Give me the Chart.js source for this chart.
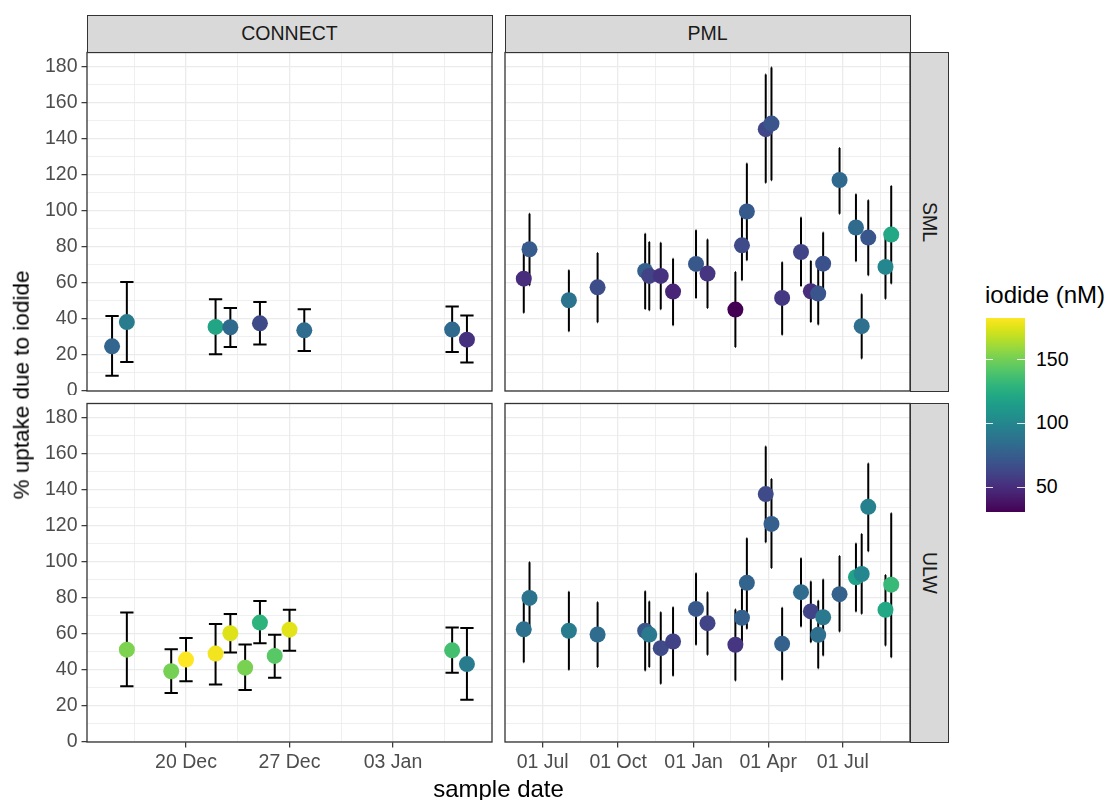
<!DOCTYPE html>
<html>
<head>
<meta charset="utf-8">
<title>% uptake due to iodide</title>
<script src="https://cdn.jsdelivr.net/npm/chart.js@4.4.1/dist/chart.umd.min.js"></script>
<style>
  html, body { margin: 0; padding: 0; background: #ffffff; }
  #figure { position: relative; width: 1111px; height: 800px; overflow: hidden; background: #ffffff;
            font-family: 'Liberation Sans', Arial, Helvetica, sans-serif; }
  #figure canvas { position: absolute; }
  .strip { position: absolute; box-sizing: border-box; background: #D9D9D9; border: 1px solid #333333;
           color: #1A1A1A; font-size: 19.5px; display: flex; align-items: center; justify-content: center;
           white-space: nowrap; }
  .strip.right { writing-mode: vertical-rl; }
  .txt { position: absolute; white-space: nowrap; line-height: 1; color: #000000; }
</style>
</head>
<body>
<div id="figure"></div>
<script>
// ---------------------------------------------------------------------------
// Sample data: % uptake due to iodide, with lower / upper error limits and the
// iodide concentration (nM) used for the point colour.
// ---------------------------------------------------------------------------

// CONNECT, sea-surface microlayer (SML)
const connectSmlDates  = ['2018-12-15','2018-12-16','2018-12-22','2018-12-23','2018-12-25','2018-12-28','2019-01-07','2019-01-08'];
const connectSmlUptake = [24.8, 38.3, 35.6, 35.4, 37.6, 33.7, 34.1, 28.5];
const connectSmlLow    = [8.5, 16.1, 20.4, 24.4, 25.8, 22.2, 21.7, 15.8];
const connectSmlHigh   = [41.7, 60.6, 50.9, 46.1, 49.4, 45.4, 46.9, 41.9];
const connectSmlIodide = [80, 93, 120, 82, 64, 84, 82, 52];

// CONNECT, underlying water (ULW)
const connectUlwDates  = ['2018-12-16','2018-12-19','2018-12-20','2018-12-22','2018-12-23','2018-12-24','2018-12-25','2018-12-26','2018-12-27','2019-01-07','2019-01-08'];
const connectUlwUptake = [51.3, 39.3, 45.8, 49.1, 60.4, 41.3, 66.3, 47.8, 62.4, 50.9, 43.3];
const connectUlwLow    = [30.9, 27.2, 33.7, 31.9, 49.7, 28.9, 54.8, 35.7, 50.7, 38.5, 23.5];
const connectUlwHigh   = [71.9, 51.5, 57.8, 65.6, 71.1, 54.1, 78.3, 59.6, 73.4, 63.6, 63.3];
const connectUlwIodide = [153, 151, 182.9, 180, 175, 152, 129, 143, 176, 137, 94];

// PML time series (same sampling dates for SML and ULW)
const pmlDates = ['2019-06-08','2019-06-15','2019-08-02','2019-09-06','2019-11-03','2019-11-08','2019-11-22','2019-12-07',
                  '2020-01-04','2020-01-18','2020-02-21','2020-02-29','2020-03-06','2020-03-29','2020-04-05','2020-04-18',
                  '2020-05-11','2020-05-23','2020-06-01','2020-06-07','2020-06-27','2020-07-17','2020-07-24','2020-08-01',
                  '2020-08-22','2020-08-29'];

const pmlSmlUptake = [62.4, 78.7, 50.4, 57.6, 66.7, 63.9, 63.9, 55.2, 70.6, 65.2, 45.2, 80.9, 99.7, 145.4, 148.5, 51.7,
                      77.2, 55.4, 54.1, 70.7, 117.2, 90.8, 36.0, 85.2, 68.9, 86.9];
const pmlSmlLow    = [43.5, 58.7, 33.2, 38.2, 45.6, 44.8, 45.4, 36.5, 51.7, 46.1, 24.5, 61.5, 72.6, 115.6, 117.0, 31.3,
                      58.3, 38.3, 36.9, 53.4, 98.5, 72.1, 18.0, 64.3, 51.3, 59.7];
const pmlSmlHigh   = [81.3, 98.5, 67.1, 76.7, 87.4, 82.8, 82.4, 73.5, 89.3, 84.1, 66.1, 100.3, 126.3, 175.8, 179.7, 71.5,
                      96.3, 72.2, 71.3, 88.0, 135.0, 109.3, 53.7, 105.9, 86.5, 113.9];
const pmlSmlIodide = [50, 74, 88, 66, 76, 60, 53, 46, 72, 54, 30.4, 64, 73, 62, 70, 55,
                      61, 50, 70, 68, 82, 83, 86, 71, 100, 122];

const pmlUlwUptake = [62.6, 80.0, 61.8, 59.7, 61.8, 59.7, 52.1, 55.8, 73.9, 66.0, 54.0, 69.0, 88.4, 137.7, 121.1, 54.5,
                      83.2, 72.5, 59.5, 69.3, 82.1, 91.5, 93.3, 130.6, 73.4, 87.4];
const pmlUlwLow    = [44.3, 60.2, 40.1, 41.6, 39.7, 41.6, 32.4, 36.8, 54.0, 48.4, 34.2, 53.0, 62.9, 110.9, 96.7, 34.6,
                      64.1, 55.4, 41.0, 48.1, 61.4, 72.5, 71.2, 105.9, 53.6, 47.1];
const pmlUlwHigh   = [80.9, 99.8, 83.5, 77.6, 83.7, 78.0, 72.1, 74.8, 93.7, 83.2, 73.6, 85.0, 113.1, 164.1, 146.0, 74.5,
                      102.0, 89.1, 78.5, 90.2, 103.3, 110.3, 115.5, 154.7, 92.8, 127.0];
const pmlUlwIodide = [87, 89, 93, 84, 72, 92, 64, 60, 72, 61, 54, 76, 79, 64, 76, 78,
                      84, 61, 86, 92, 78, 119, 100, 97, 122, 133];

// Axis breaks and labels
const connectTickDates  = ['2018-12-20', '2018-12-27', '2019-01-03'];
const connectTickLabels = ['20 Dec', '27 Dec', '03 Jan'];
const pmlTickDates      = ['2019-07-01', '2019-10-01', '2020-01-01', '2020-04-01', '2020-07-01'];
const pmlTickLabels     = ['01 Jul', '01 Oct', '01 Jan', '01 Apr', '01 Jul'];
const uptakeTicks       = [0, 20, 40, 60, 80, 100, 120, 140, 160, 180];
const uptakeMax         = 188;
const iodideTicks       = [50, 100, 150];

// Facet and title text
const columnNames = ['CONNECT', 'PML'];
const rowNames    = ['SML', 'ULW'];
const yTitle      = '% uptake due to iodide';
const xTitle      = 'sample date';
const legendTitle = 'iodide (nM)';

// ---------------------------------------------------------------------------
// Styling and layout
// ---------------------------------------------------------------------------
const FONT = "'Liberation Sans', Arial, Helvetica, sans-serif";
const CAP = 0.45;                       // half width of error-bar caps, in days
const COLS = [{ x0: 87, x1: 492 }, { x0: 505, x1: 910 }];
const ROWS = [{ y0: 52.5, y1: 391 }, { y0: 403.5, y1: 742 }];
const STRIP_TOP = 14.5, STRIP_RIGHT = 948.5;
const LEGEND = { x: 985.7, y: 317.7, w: 39, h: 194.6 };

const VIRIDIS = ['#440154','#471365','#482475','#463480','#414487','#3B528B','#355F8D','#2F6C8E','#2A788E','#25848E',
                 '#21918C','#1E9C89','#22A884','#2FB47C','#44BF70','#5EC962','#7AD151','#9BD93C','#BDDF26','#DFE318','#FDE725'];

const allIodide = [].concat(connectSmlIodide, connectUlwIodide, pmlSmlIodide, pmlUlwIodide);
const iodMin = Math.min(...allIodide), iodMax = Math.max(...allIodide);

function hexRgb(h) { return [1, 3, 5].map(i => parseInt(h.slice(i, i + 2), 16)); }
function viridis(t) {
  t = Math.max(0, Math.min(1, t));
  const f = t * (VIRIDIS.length - 1), i = Math.min(Math.floor(f), VIRIDIS.length - 2), r = f - i;
  const a = hexRgb(VIRIDIS[i]), b = hexRgb(VIRIDIS[i + 1]);
  return 'rgb(' + a.map((v, k) => Math.round(v + (b[k] - v) * r)).join(',') + ')';
}
const iodideColour = v => viridis((v - iodMin) / (iodMax - iodMin));

const toDay = s => Date.UTC(+s.slice(0, 4), +s.slice(5, 7) - 1, +s.slice(8, 10)) / 864e5;

// Shared x scale for a facet column: data range (incl. caps) expanded by 5 %,
// major breaks plus minor breaks half way between them.
function columnScale(dateLists, tickDates, tickLabels) {
  const days = [].concat(...dateLists).map(toDay);
  const lo = Math.min(...days) - CAP, hi = Math.max(...days) + CAP;
  const pad = 0.05 * (hi - lo);
  const min = lo - pad, max = hi + pad;
  const major = tickDates.map(toDay);
  const minor = [];
  for (let i = 0; i < major.length - 1; i++) minor.push((major[i] + major[i + 1]) / 2);
  minor.push(major[0] - (major[1] - major[0]) / 2);
  minor.push(major[major.length - 1] + (major[major.length - 1] - major[major.length - 2]) / 2);
  const ticks = major.concat(minor).filter(v => v >= min && v <= max).sort((a, b) => a - b);
  const labels = new Map(major.map((d, i) => [d, tickLabels[i]]));
  return { min, max, ticks, isMajor: v => labels.has(v), label: v => labels.get(v) || '' };
}

const yMinor = uptakeTicks.map(v => v + 10).filter(v => v < uptakeMax);
const yScaleDef = {
  min: 0, max: uptakeMax,
  ticks: uptakeTicks.concat(yMinor).sort((a, b) => a - b),
  isMajor: v => uptakeTicks.includes(v),
  label: v => uptakeTicks.includes(v) ? String(v) : ''
};

const xScales = [
  columnScale([connectSmlDates, connectUlwDates], connectTickDates, connectTickLabels),
  columnScale([pmlDates], pmlTickDates, pmlTickLabels)
];

// Vertical error bars with caps, drawn through the chart's own scales
const errorBars = {
  id: 'errorBars',
  beforeDatasetsDraw(chart) {
    const { ctx, scales: { x, y } } = chart;
    ctx.save();
    ctx.strokeStyle = '#000000';
    ctx.lineWidth = 2;
    ctx.lineCap = 'butt';
    for (const p of chart.data.datasets[0].data) {
      const cx = x.getPixelForValue(p.x);
      const xl = x.getPixelForValue(p.x - CAP), xr = x.getPixelForValue(p.x + CAP);
      const yt = y.getPixelForValue(p.hi), yb = y.getPixelForValue(p.lo);
      ctx.beginPath();
      ctx.moveTo(cx, yt); ctx.lineTo(cx, yb);
      ctx.moveTo(xl, yt); ctx.lineTo(xr, yt);
      ctx.moveTo(xl, yb); ctx.lineTo(xr, yb);
      ctx.stroke();
    }
    ctx.restore();
  }
};

// Dark frame round each panel
const panelBorder = {
  id: 'panelBorder',
  afterDraw(chart) {
    const { ctx, chartArea: a } = chart;
    ctx.save();
    ctx.strokeStyle = '#333333';
    ctx.lineWidth = 1.3;
    ctx.strokeRect(a.left, a.top, a.right - a.left, a.bottom - a.top);
    ctx.restore();
  }
};

const fig = document.getElementById('figure');

function addPanel(spec) {
  const col = COLS[spec.col], row = ROWS[spec.row];
  const xs = xScales[spec.col];
  const showY = spec.col === 0, showX = spec.row === 1;
  const left = showY ? 0 : col.x0 - 4;
  const top = Math.floor(row.y0) - 4;
  const right = col.x1 + 5;
  const bottom = showX ? 800 : Math.ceil(row.y1) + 4;
  const W = right - left, H = bottom - top;

  const canvas = document.createElement('canvas');
  canvas.width = W; canvas.height = H;
  canvas.style.left = left + 'px'; canvas.style.top = top + 'px';
  canvas.style.width = W + 'px'; canvas.style.height = H + 'px';
  fig.appendChild(canvas);

  const yWidth = col.x0 - left, xHeight = bottom - row.y1;
  const points = spec.dates.map((d, i) => ({ x: toDay(d), y: spec.uptake[i], lo: spec.low[i], hi: spec.high[i] }));
  const tickFont = { family: FONT, size: 19.5 };
  const major = (s, c) => !!(c && c.tick) && s.isMajor(c.tick.value);

  new Chart(canvas, {
    type: 'scatter',
    data: {
      datasets: [{
        data: points,
        pointRadius: 8,
        pointHoverRadius: 8,
        pointBorderWidth: 0,
        borderWidth: 0,
        pointBackgroundColor: spec.iodide.map(iodideColour)
      }]
    },
    options: {
      responsive: false,
      animation: false,
      events: [],
      devicePixelRatio: 1,
      layout: { autoPadding: false, padding: { left: 0, top: row.y0 - top, right: right - col.x1, bottom: 0 } },
      plugins: { legend: { display: false }, tooltip: { enabled: false }, title: { display: false } },
      scales: {
        x: {
          type: 'linear', position: 'bottom', min: xs.min, max: xs.max,
          afterBuildTicks: s => { s.ticks = xs.ticks.map(v => ({ value: v })); },
          afterFit: s => { s.height = xHeight; s.paddingLeft = 0; s.paddingRight = 0; },
          border: { display: false },
          grid: {
            color: '#EBEBEB',
            lineWidth: c => major(xs, c) ? 1.3 : 0.8,
            drawTicks: showX, tickLength: 5.5, tickWidth: 1.2,
            tickColor: c => major(xs, c) ? '#333333' : 'rgba(0,0,0,0)'
          },
          ticks: {
            display: showX, autoSkip: false, maxRotation: 0, minRotation: 0, padding: 3,
            color: '#4D4D4D', font: tickFont, callback: v => xs.label(v)
          }
        },
        y: {
          type: 'linear', position: 'left', min: yScaleDef.min, max: yScaleDef.max,
          afterBuildTicks: s => { s.ticks = yScaleDef.ticks.map(v => ({ value: v })); },
          afterFit: s => { s.width = yWidth; s.paddingTop = 0; s.paddingBottom = 0; },
          border: { display: false },
          grid: {
            color: '#EBEBEB',
            lineWidth: c => major(yScaleDef, c) ? 1.3 : 0.8,
            drawTicks: showY, tickLength: 5.5, tickWidth: 1.2,
            tickColor: c => major(yScaleDef, c) ? '#333333' : 'rgba(0,0,0,0)'
          },
          ticks: {
            display: showY, autoSkip: false, padding: 4,
            color: '#4D4D4D', font: tickFont, callback: v => yScaleDef.label(v)
          }
        }
      }
    },
    plugins: [errorBars, panelBorder]
  });
}

addPanel({ col: 0, row: 0, dates: connectSmlDates, uptake: connectSmlUptake, low: connectSmlLow, high: connectSmlHigh, iodide: connectSmlIodide });
addPanel({ col: 1, row: 0, dates: pmlDates, uptake: pmlSmlUptake, low: pmlSmlLow, high: pmlSmlHigh, iodide: pmlSmlIodide });
addPanel({ col: 0, row: 1, dates: connectUlwDates, uptake: connectUlwUptake, low: connectUlwLow, high: connectUlwHigh, iodide: connectUlwIodide });
addPanel({ col: 1, row: 1, dates: pmlDates, uptake: pmlUlwUptake, low: pmlUlwLow, high: pmlUlwHigh, iodide: pmlUlwIodide });

// ---------------------------------------------------------------------------
// Facet strips, axis titles and colour bar
// ---------------------------------------------------------------------------
function el(cls, text, css) {
  const d = document.createElement('div');
  d.className = cls;
  if (text) d.textContent = text;
  Object.assign(d.style, css);
  fig.appendChild(d);
  return d;
}

COLS.forEach((c, i) => el('strip', columnNames[i], {
  left: (c.x0 - 0.5) + 'px', top: STRIP_TOP + 'px',
  width: (c.x1 - c.x0 + 1) + 'px', height: (ROWS[0].y0 - STRIP_TOP + 0.5) + 'px'
}));
ROWS.forEach((r, i) => el('strip right', rowNames[i], {
  left: (COLS[1].x1) + 'px', top: (r.y0 - 0.5) + 'px',
  width: (STRIP_RIGHT - COLS[1].x1) + 'px', height: (r.y1 - r.y0 + 1) + 'px'
}));

el('txt', yTitle, {
  left: '21.5px', top: '384.5px', fontSize: '22.5px',
  transform: 'translate(-50%, -50%) rotate(-90deg)'
});
el('txt', xTitle, {
  left: ((COLS[0].x0 + COLS[1].x1) / 2) + 'px', top: (797.5 - 0.8465 * 24) + 'px', fontSize: '24px',
  transform: 'translateX(-50%)'
});

// colour bar legend
el('txt', legendTitle, { left: '985px', top: (303.3 - 0.8465 * 24) + 'px', fontSize: '24px' });
el('', '', {
  position: 'absolute', left: LEGEND.x + 'px', top: LEGEND.y + 'px', width: LEGEND.w + 'px', height: LEGEND.h + 'px',
  background: 'linear-gradient(to top, ' + VIRIDIS.map((c, i) => c + ' ' + (i * 100 / (VIRIDIS.length - 1)) + '%').join(', ') + ')'
});
iodideTicks.forEach(v => {
  const yy = LEGEND.y + (iodMax - v) / (iodMax - iodMin) * LEGEND.h;
  const tw = LEGEND.w / 5;
  [LEGEND.x, LEGEND.x + LEGEND.w - tw].forEach(xx => el('', '', {
    position: 'absolute', left: xx + 'px', top: (yy - 0.5) + 'px', width: tw + 'px', height: '1px',
    background: 'rgba(255,255,255,0.85)'
  }));
  el('txt', String(v), { left: '1036px', top: yy + 'px', fontSize: '19.5px', transform: 'translateY(-50%)' });
});
</script>
</body>
</html>
